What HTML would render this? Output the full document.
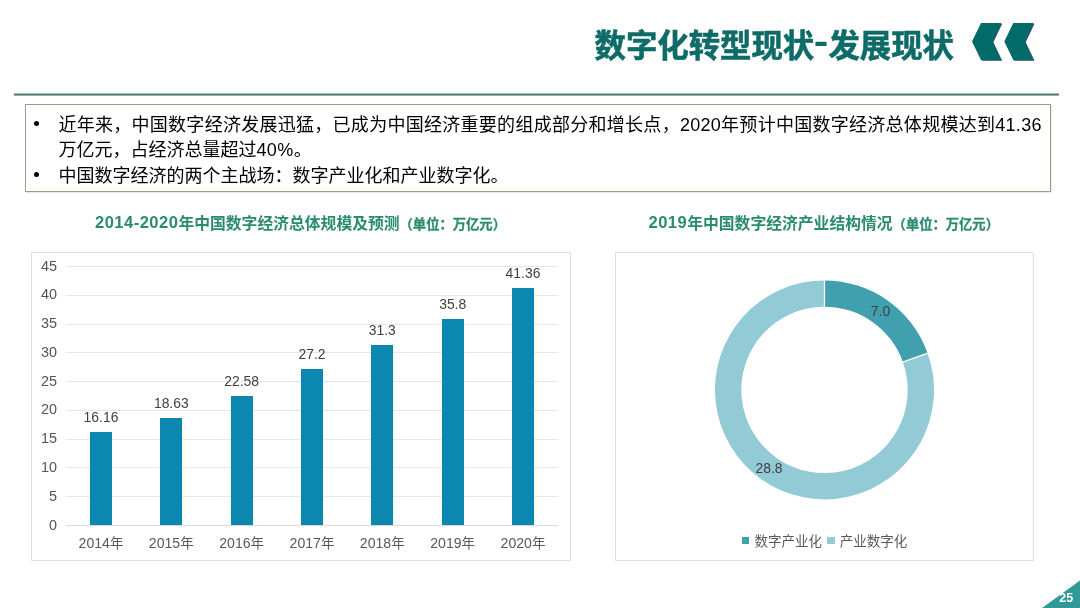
<!DOCTYPE html>
<html lang="zh-CN"><head><meta charset="utf-8"><title>数字化转型现状-发展现状</title>
<style>
html,body{margin:0;padding:0;background:#fff;}
body{width:1080px;height:608px;position:relative;overflow:hidden;font-family:"Liberation Sans","Noto Sans CJK SC",sans-serif;}
.abs{position:absolute;}
#title{position:absolute;left:594.5px;top:23.5px;font-size:31.4px;font-weight:700;color:#0e6b68;-webkit-text-stroke:0.6px #0e6b68;white-space:nowrap;line-height:46px;}
#title .hy{display:inline-block;width:14.2px;text-align:center;position:relative;top:-3.8px;font-size:35px;line-height:20px;transform:scaleX(1.25);-webkit-text-stroke:0;}
#hline{position:absolute;left:14px;top:93px;width:1045px;height:3px;background:linear-gradient(#8fd0cc 0,#8fd0cc 1px,#4f7473 1px,#4f7473 2px,#a8a8a8 2px,#a8a8a8 3px);}
#box{position:absolute;left:25px;top:104px;width:1024px;height:86px;border:1px solid #a39b84;box-shadow:0.5px 0.5px 1.5px rgba(0,0,0,.25);}
.bl{position:absolute;left:58.4px;font-size:18px;line-height:26px;color:#000;white-space:nowrap;}
#l1{letter-spacing:0.28px;}
.dot{position:absolute;left:34px;width:5px;height:5px;border-radius:50%;background:#000;}
.ct{position:absolute;top:212.5px;font-size:15.8px;font-weight:700;color:#2a8b70;white-space:nowrap;line-height:22px;}
.ct .sm{font-size:13.3px;-webkit-text-stroke:0.3px #2a8b70;}
.ct .n{font-size:16.6px;letter-spacing:0.45px;position:relative;top:-0.9px;}
.cbox{position:absolute;top:252px;height:307px;border:1px solid #e0e0e0;box-sizing:content-box;}
.gl{position:absolute;left:65.8px;width:492.4px;height:1px;}
.yl{position:absolute;left:27px;width:30px;text-align:right;font-size:14.4px;line-height:18px;color:#555;}
.bar{position:absolute;width:22px;background:#0c88b0;}
.dl{position:absolute;width:60px;text-align:center;font-size:13.9px;line-height:18px;color:#404040;}
.xl{position:absolute;width:60px;text-align:center;font-size:14.1px;line-height:20px;color:#595959;white-space:nowrap;}
.xl .cj{font-size:13.5px;}
.pl{position:absolute;font-size:13.9px;line-height:18px;color:#404040;width:60px;text-align:center;}
.lg{position:absolute;top:532px;font-size:13.5px;line-height:20px;color:#595959;white-space:nowrap;}
.sq{position:absolute;top:536.5px;width:7.3px;height:7.3px;}
#pn{position:absolute;left:1056.3px;top:589px;width:20px;text-align:center;font-size:12.5px;font-weight:700;color:#fff;line-height:18px;}
</style></head><body>
<div id="title">数字化转型现状<span class="hy">-</span>发展现状</div>
<svg class="abs" style="left:960px;top:15px" width="90" height="56" viewBox="960 15 90 56">
<path d="M972,41.5 L981,23 H1001.3 L992.5,41.5 L1001.3,60 H981 Z" fill="#3b4878" transform="translate(0.9,0.8)"/>
<path d="M972,41.5 L981,23 H1001.3 L992.5,41.5 L1001.3,60 H981 Z" fill="#026b68"/>
<path d="M1004.3,41.5 L1013.3,23 H1033.6 L1024.8,41.5 L1033.6,60 H1013.3 Z" fill="#3b4878" transform="translate(0.9,0.8)"/>
<path d="M1004.3,41.5 L1013.3,23 H1033.6 L1024.8,41.5 L1033.6,60 H1013.3 Z" fill="#026b68"/>
</svg>
<div id="hline"></div>
<div id="box"></div>
<div class="dot" style="top:120.7px"></div>
<div class="dot" style="top:172.2px"></div>
<div class="bl" id="l1" style="top:111.6px">近年来，中国数字经济发展迅猛，已成为中国经济重要的组成部分和增长点，2020年预计中国数字经济总体规模达到41.36</div>
<div class="bl" id="l2" style="top:137.4px">万亿元，占经济总量超过<span style="letter-spacing:0.45px">40%</span>。</div>
<div class="bl" id="l3" style="top:163.2px">中国数字经济的两个主战场：数字产业化和产业数字化。</div>

<div class="ct" id="ct1" style="left:95px"><span class="n">2014-2020</span>年中国数字经济总体规模及预测<span class="sm">（单位：万亿元）</span></div>
<div class="ct" id="ct2" style="left:648.5px"><span class="n">2019</span>年中国数字经济产业结构情况<span class="sm">（单位：万亿元）</span></div>

<div class="cbox" style="left:31px;width:538px"></div>
<div class="cbox" style="left:615px;width:417px"></div>
<div class="gl" style="top:524.8px;background:#d9d9d9"></div>
<div class="yl" style="top:515.5px">0</div>
<div class="gl" style="top:496.0px;background:#e6e6e6"></div>
<div class="yl" style="top:486.7px">5</div>
<div class="gl" style="top:467.3px;background:#e6e6e6"></div>
<div class="yl" style="top:458.0px">10</div>
<div class="gl" style="top:438.5px;background:#e6e6e6"></div>
<div class="yl" style="top:429.2px">15</div>
<div class="gl" style="top:409.7px;background:#e6e6e6"></div>
<div class="yl" style="top:400.4px">20</div>
<div class="gl" style="top:381.0px;background:#e6e6e6"></div>
<div class="yl" style="top:371.7px">25</div>
<div class="gl" style="top:352.2px;background:#e6e6e6"></div>
<div class="yl" style="top:342.9px">30</div>
<div class="gl" style="top:323.5px;background:#e6e6e6"></div>
<div class="yl" style="top:314.2px">35</div>
<div class="gl" style="top:294.7px;background:#e6e6e6"></div>
<div class="yl" style="top:285.4px">40</div>
<div class="gl" style="top:265.9px;background:#e6e6e6"></div>
<div class="yl" style="top:256.6px">45</div>

<div class="bar" style="left:90.0px;top:432.4px;height:92.9px"></div>
<div class="dl" style="left:71.0px;top:408.3px">16.16</div>
<div class="xl" style="left:71.0px;top:533px">2014<span class="cj">年</span></div>
<div class="bar" style="left:160.3px;top:418.3px;height:107.0px"></div>
<div class="dl" style="left:141.3px;top:394.2px">18.63</div>
<div class="xl" style="left:141.3px;top:533px">2015<span class="cj">年</span></div>
<div class="bar" style="left:230.7px;top:395.7px;height:129.6px"></div>
<div class="dl" style="left:211.7px;top:371.6px">22.58</div>
<div class="xl" style="left:211.7px;top:533px">2016<span class="cj">年</span></div>
<div class="bar" style="left:301.0px;top:368.9px;height:156.4px"></div>
<div class="dl" style="left:282.0px;top:344.8px">27.2</div>
<div class="xl" style="left:282.0px;top:533px">2017<span class="cj">年</span></div>
<div class="bar" style="left:371.3px;top:345.0px;height:180.3px"></div>
<div class="dl" style="left:352.3px;top:320.9px">31.3</div>
<div class="xl" style="left:352.3px;top:533px">2018<span class="cj">年</span></div>
<div class="bar" style="left:441.7px;top:319.4px;height:205.9px"></div>
<div class="dl" style="left:422.7px;top:295.3px">35.8</div>
<div class="xl" style="left:422.7px;top:533px">2019<span class="cj">年</span></div>
<div class="bar" style="left:512.0px;top:288.0px;height:237.3px"></div>
<div class="dl" style="left:493.0px;top:263.9px">41.36</div>
<div class="xl" style="left:493.0px;top:533px">2020<span class="cj">年</span></div>

<svg class="abs" style="left:700px;top:270px" width="250" height="240" viewBox="700 270 250 240">
<path d="M824.50,280.40 A109.5,109.5 0 0 1 927.65,353.15 L902.87,361.98 A83.2,83.2 0 0 0 824.50,306.70 Z" fill="#41a0ae"/>
<path d="M927.65,353.15 A109.5,109.5 0 1 1 824.50,280.40 L824.50,306.70 A83.2,83.2 0 1 0 902.87,361.98 Z" fill="#92cad5"/>
<line x1="824.50" y1="279.40" x2="824.50" y2="307.70" stroke="#fff" stroke-width="1.3"/>
<line x1="928.59" y1="352.82" x2="901.93" y2="362.31" stroke="#fff" stroke-width="1.3"/>
</svg>
<div class="pl" id="p1" style="left:850.5px;top:302px">7.0</div>
<div class="pl" id="p2" style="left:739px;top:459px">28.8</div>
<div class="sq" style="left:742px;background:#41a0ae"></div>
<div class="lg" id="lg1" style="left:754.5px">数字产业化</div>
<div class="sq" style="left:827.4px;background:#92cad5"></div>
<div class="lg" id="lg2" style="left:839.8px">产业数字化</div>

<svg class="abs" style="left:1040px;top:578px" width="40" height="30" viewBox="1040 578 40 30"><path d="M1042,608 L1080,580.5 V608 Z" fill="#2f9a98"/></svg>
<div id="pn">25</div>
</body></html>
